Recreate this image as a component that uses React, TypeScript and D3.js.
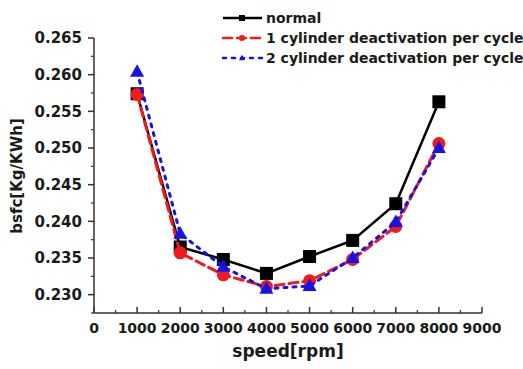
import React from "react";
import * as d3 from "d3";

const speeds = [1000, 2000, 3000, 4000, 5000, 6000, 7000, 8000];
const normal = [0.2574, 0.2365, 0.2348, 0.2329, 0.2352, 0.2374, 0.2424, 0.2563];
const oneCyl = [0.2573, 0.2357, 0.2327, 0.2311, 0.2319, 0.2348, 0.2393, 0.2506];
const twoCyl = [0.2604, 0.2383, 0.2338, 0.2308, 0.2312, 0.2350, 0.2399, 0.2500];
const seriesNames = ["normal", "1 cylinder deactivation per cycle", "2 cylinder deactivation per cycle"];
const xTicks = [0, 1000, 2000, 3000, 4000, 5000, 6000, 7000, 8000, 9000];
const yTicks = [0.23, 0.235, 0.24, 0.245, 0.25, 0.255, 0.26, 0.265];

const W = 523, H = 369;
const FONT = "'DejaVu Sans', Verdana, sans-serif";

export default function App() {
  const x = d3.scaleLinear().domain([0, 9000]).range([94, 482]);
  const y = d3.scaleLinear().domain([0.2275, 0.265]).range([313, 38]);
  const line = d3.line<[number, number]>().x(d => x(d[0])).y(d => y(d[1]));

  const xMinor = d3.range(500, 9000, 1000);
  const yMinor = d3.range(0.2275, 0.265, 0.005);

  const series = [
    { vals: normal, color: "#000", dash: undefined as string | undefined, marker: "square", width: 2.5 },
    { vals: oneCyl, color: "#f21b1b", dash: "9,5", marker: "circle", width: 3 },
    { vals: twoCyl, color: "#1414e6", dash: "3,6", marker: "triangle", width: 3 },
  ];

  const marker = (m: string, cx: number, cy: number, color: string, s: number, key: any) => {
    if (m === "square") return <rect key={key} x={cx - s / 2} y={cy - s / 2} width={s} height={s} fill={color} />;
    if (m === "circle") return <circle key={key} cx={cx} cy={cy} r={s / 2} fill={color} />;
    const h = s * 0.9;
    return <path key={key} d={`M${cx},${cy - h * 0.6}L${cx + s / 2},${cy + h * 0.4}L${cx - s / 2},${cy + h * 0.4}Z`} fill={color} />;
  };

  return (
    <svg width={W} height={H} style={{ position: "absolute", left: 0, top: 0, background: "#fff" }}>
      {/* axes */}
      <line x1={94} x2={94} y1={38} y2={313} stroke="#333" strokeWidth={1.5} />
      <line x1={94} x2={482} y1={313} y2={313} stroke="#333" strokeWidth={1.5} />
      {yTicks.map(t => (
        <g key={"yt" + t}>
          <line x1={88} x2={94} y1={y(t)} y2={y(t)} stroke="#333" strokeWidth={1.5} />
          <text x={82} y={y(t)} dy="0.35em" textAnchor="end" fontFamily={FONT} fontWeight="bold" fontSize={15} fill="#1a1a1a">{t.toFixed(3)}</text>
        </g>
      ))}
      {yMinor.map(t => (
        <line key={"ym" + t} x1={91} x2={94} y1={y(t)} y2={y(t)} stroke="#333" strokeWidth={1.2} />
      ))}
      {xTicks.map(t => (
        <g key={"xt" + t}>
          <line x1={x(t)} x2={x(t)} y1={313} y2={307} stroke="#333" strokeWidth={1.5} />
          <text x={x(t)} y={333} textAnchor="middle" fontFamily={FONT} fontWeight="bold" fontSize={14} fill="#1a1a1a">{t}</text>
        </g>
      ))}
      {xMinor.map(t => (
        <line key={"xm" + t} x1={x(t)} x2={x(t)} y1={313} y2={310} stroke="#333" strokeWidth={1.2} />
      ))}
      <text x={288} y={357} textAnchor="middle" fontFamily={FONT} fontWeight="bold" fontSize={17} fill="#1a1a1a">speed[rpm]</text>
      <text transform="translate(22,176) rotate(-90)" textAnchor="middle" fontFamily={FONT} fontWeight="bold" fontSize={15} fill="#1a1a1a">bsfc[Kg/KWh]</text>

      {/* series */}
      {series.map((s, i) => {
        const pts = speeds.map((sp, j) => [sp, s.vals[j]] as [number, number]);
        return (
          <g key={"s" + i}>
            <path d={line(pts) || ""} fill="none" stroke={s.color} strokeWidth={s.width} strokeDasharray={s.dash} strokeLinecap={s.dash ? "round" : "butt"} />
            {pts.map((p, j) => marker(s.marker, x(p[0]), y(p[1]), s.color, s.marker === "triangle" ? 14 : 13, j))}
          </g>
        );
      })}

      {/* legend */}
      {series.map((s, i) => {
        const ly = 18 + i * 20;
        return (
          <g key={"l" + i}>
            <line x1={223} x2={262} y1={ly} y2={ly} stroke={s.color} strokeWidth={2.5} strokeDasharray={s.dash} strokeLinecap={s.dash ? "round" : "butt"} />
            {marker(s.marker, 242, ly, s.color, 6, "m")}
            <text x={266} y={ly} dy="0.35em" fontFamily={FONT} fontWeight="bold" fontSize={14} fill="#1a1a1a">{seriesNames[i]}</text>
          </g>
        );
      })}
    </svg>
  );
}
